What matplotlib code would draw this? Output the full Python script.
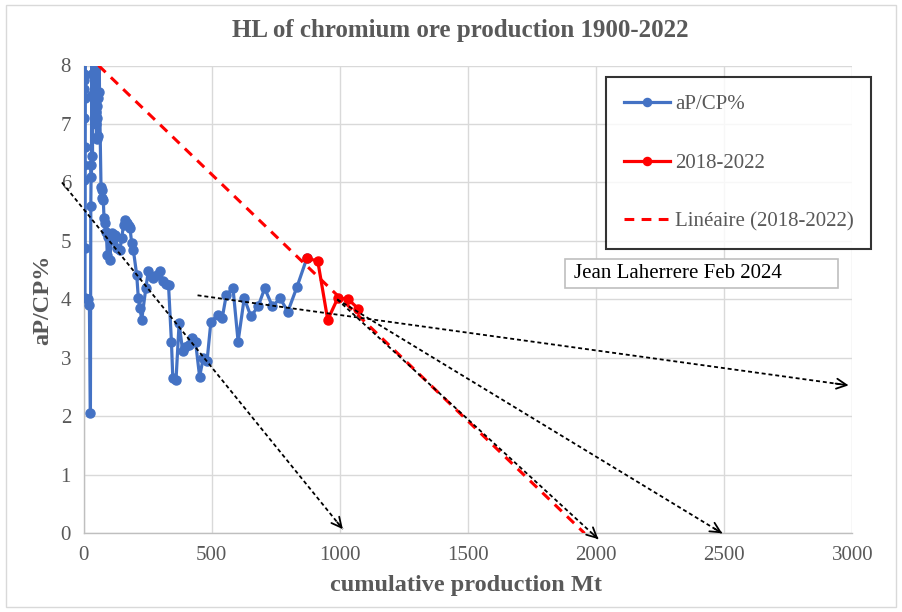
import matplotlib
matplotlib.use('Agg')
import matplotlib.pyplot as plt
import numpy as np
from matplotlib.patches import Rectangle

plt.rcParams['font.family'] = ['Liberation Serif', 'DejaVu Serif']

# ---------------- data ----------------
title = "HL of chromium ore production 1900-2022"
x_label = "cumulative production Mt"
y_label = "aP/CP%"
legend_labels = ["aP/CP%", "2018-2022", "Linéaire (2018-2022)"]
note = "Jean Laherrere Feb 2024"
x_ticks = [0, 500, 1000, 1500, 2000, 2500, 3000]
y_ticks = [0, 1, 2, 3, 4, 5, 6, 7, 8]

# blue series 1900-2017: cumulative production (Mt) and aP/CP (%)
cum_prod = [0.5, 1.0, 1.5, 2.0, 2.5, 3.0, 3.5, 4.0, 4.5, 5.0, 5.5, 6.0,
            19, 23, 27, 28.5, 30, 31, 32, 33, 34, 35, 37,
            45, 47, 49, 50, 51, 52, 54, 56, 58, 60, 62.4,
            68.3, 72.2, 74.1, 77.3, 80.0, 83.1, 89.0, 92.9, 96.8, 103.4,
            109.3, 116.3, 122.9, 129.5, 142.4, 149.1, 156.1, 161.9, 168.6,
            175.6, 181.4, 188.1, 194.3, 207.6, 213.8, 220.5, 227.1, 243.1,
            252.8, 263.4, 273.1, 286.8, 298.5, 310.2, 320.0, 331.7, 343.0,
            348.5, 360.9, 373.0, 387.1, 397.2, 409.7, 423.0, 437.0, 453.0,
            467.1, 481.9, 497.1, 523.3, 541.2, 557.2, 583.3, 603.2, 627.1,
            653.2, 681.3, 707.0, 737.1, 767.1, 797.2, 833.5, 871.0]
ap_cp = [9.5, 7.85, 7.1, 7.75, 6.3, 7.6, 6.05, 4.88, 6.6, 7.45, 9.0, 4.02,
         4.0, 3.9, 2.05, 5.6, 6.3, 6.1, 7.85, 9.0, 7.5, 6.45, 8.8,
         7.85, 7.2, 8.5, 7.0, 6.75, 7.3, 7.1, 6.8, 7.45, 9.0, 7.55,
         5.93, 5.87, 5.74, 5.70, 5.39, 5.30, 5.16, 4.76, 5.07, 4.68,
         5.13, 5.02, 5.10, 4.88, 4.85, 5.05, 5.27, 5.36, 5.30,
         5.26, 5.22, 4.96, 4.85, 4.42, 4.03, 3.85, 3.65, 4.19,
         4.48, 4.40, 4.36, 4.42, 4.48, 4.32, 4.27, 4.25, 3.28,
         2.65, 2.62, 3.59, 3.11, 3.19, 3.22, 3.34, 3.28, 2.68,
         2.99, 2.94, 3.62, 3.73, 3.68, 4.08, 4.19, 3.28, 4.02,
         3.71, 3.88, 4.19, 3.88, 4.02, 3.79, 4.22, 4.70]

# red series 2017-2022
red_x = [871.0, 913.9, 952.9, 991.9, 1030.9, 1072.3]
red_y = [4.70, 4.66, 3.65, 4.02, 4.01, 3.84]

# hand-drawn black dashed arrows (start -> end, data units)
arrow_x0 = [-84, 445, 990, 990]
arrow_y0 = [6.0, 4.07, 4.0, 4.0]
arrow_x1 = [1012, 2985, 2009, 2492]
arrow_y1 = [0.07, 2.53, -0.1, 0.0]

# ---------------- figure ----------------
W, H = 902, 612
fig = plt.figure(figsize=(W / 100, H / 100), dpi=100)
fig.patch.set_facecolor('white')

def fx(px):
    return px / W

def fy(py):
    return 1 - py / H

ax = fig.add_axes([fx(83.5), fy(533.3), fx(852.4) - fx(83.5), fy(65.5) - fy(533.3)])
ax.set_xlim(0, 3000)
ax.set_ylim(0, 8)
ax.set_xticks(x_ticks)
ax.set_yticks(y_ticks)
ax.grid(True, color='#d9d9d9', lw=1.0)
ax.set_axisbelow(True)
for s in ['top', 'right']:
    ax.spines[s].set_visible(False)
for s in ['left', 'bottom']:
    ax.spines[s].set_color('#bfbfbf')
    ax.spines[s].set_linewidth(1.0)
ax.tick_params(length=0, pad=9, labelsize=15, labelcolor='#595959')

blue = '#4472C4'
red = '#FF0000'
l1, = ax.plot(cum_prod, ap_cp, color=blue, lw=2.3, marker='o', ms=6.5,
              zorder=3, label=legend_labels[0])
l2, = ax.plot(red_x, red_y, color=red, lw=2.3, marker='o', ms=6.5,
              zorder=4, label=legend_labels[1])

# linear trend of the red series, extended to y=8 and y=0
a, b = np.polyfit(red_x, red_y, 1)
xt = np.array([(8 - b) / a, -b / a])
l3, = ax.plot(xt, a * xt + b, color=red, lw=2.2, ls=(0, (3.2, 2.4)),
              zorder=4, label=legend_labels[2])

# black dashed arrows
for x0, y0, x1, y1 in zip(arrow_x0, arrow_y0, arrow_x1, arrow_y1):
    ax.plot([x0, x1], [y0, y1], color='black', lw=1.3, ls=(0, (2.2, 1.6)),
            zorder=5, clip_on=False)
    xa = x1 - 0.02 * (x1 - x0)
    ya = y1 - 0.02 * (y1 - y0)
    ax.annotate('', xy=(x1, y1), xytext=(xa, ya), annotation_clip=False,
                arrowprops=dict(arrowstyle='->', color='black', lw=1.3,
                                mutation_scale=18, shrinkA=0, shrinkB=0),
                zorder=5)

# title and axis labels
fig.text(fx(460), fy(31), title, ha='center', va='center', fontsize=18,
         fontweight='bold', color='#595959')
fig.text(fx(466), fy(586), x_label, ha='center', va='center', fontsize=17.5,
         fontweight='bold', color='#595959')
fig.text(fx(43), fy(300), y_label, ha='center', va='center', fontsize=17.5,
         fontweight='bold', color='#595959', rotation=90)

# legend
leg = ax.legend(handles=[l1, l2, l3], loc='upper left',
                bbox_to_anchor=(fx(606), fy(77)), bbox_transform=fig.transFigure,
                borderaxespad=0, fontsize=15, labelcolor='#595959',
                frameon=True, fancybox=False, borderpad=0.85,
                labelspacing=1.87, handlelength=2.2, handletextpad=0.25,
                markerscale=0.9)
leg.get_frame().set_edgecolor('black')
leg.get_frame().set_linewidth(1.5)
leg.set_zorder(10)

# note box
fig.patches.append(Rectangle((fx(565), fy(288)), fx(838) - fx(565), fy(259) - fy(288),
                             transform=fig.transFigure, facecolor='white',
                             edgecolor='#bfbfbf', lw=1.2, zorder=6))
fig.text(fx(574), fy(274), note, ha='left', va='center', fontsize=15,
         color='black', zorder=7)

# outer chart border
fig.patches.append(Rectangle((fx(6), fy(607)), fx(896) - fx(6), fy(5) - fy(607),
                             transform=fig.transFigure, facecolor='none',
                             edgecolor='#d9d9d9', lw=1.0, zorder=0))

fig.savefig('out.png', dpi=100)
